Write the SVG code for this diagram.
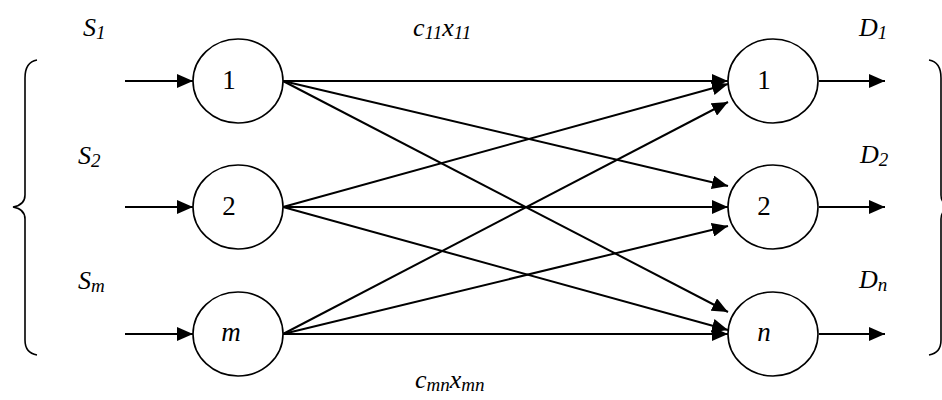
<svg xmlns="http://www.w3.org/2000/svg" width="942" height="400" viewBox="0 0 942 400">
<style>
.node{fill:#fff;stroke:#000;stroke-width:1.6}
.edge{stroke:#000;stroke-width:2;fill:none}
.brace{stroke:#000;stroke-width:1.6;fill:none}
.t{font-family:'Liberation Serif','Times New Roman',Times,serif}
</style>
<defs>
<marker id="ah" viewBox="0 0 16 14" refX="16" refY="7" markerWidth="16" markerHeight="14" markerUnits="userSpaceOnUse" orient="auto">
<path d="M0,0 L16,7 L0,14 z" fill="#000"/>
</marker>
</defs>
<rect width="942" height="400" fill="#fff"/>
<g id="braces">
<path class="brace" d="M37,60 Q25,62 25,78 L25,195 Q25,205 13,207 Q25,209 25,219 L25,340 Q25,353 37,355"/>
<path class="brace" d="M929,60 Q941,62 941,78 L941,195 Q941,205 953,207 Q941,209 941,219 L941,340 Q941,353 929,355"/>
</g>
<g id="connectors">
<line class="edge" x1="125" y1="81" x2="193" y2="81" marker-end="url(#ah)"/>
<line class="edge" x1="125" y1="207" x2="193" y2="207" marker-end="url(#ah)"/>
<line class="edge" x1="125" y1="334" x2="193" y2="334" marker-end="url(#ah)"/>
<line class="edge" x1="283" y1="81" x2="728" y2="81" marker-end="url(#ah)"/>
<line class="edge" x1="283" y1="81" x2="728" y2="186" marker-end="url(#ah)"/>
<line class="edge" x1="283" y1="81" x2="728" y2="312" marker-end="url(#ah)"/>
<line class="edge" x1="283" y1="207" x2="728" y2="84" marker-end="url(#ah)"/>
<line class="edge" x1="283" y1="207" x2="728" y2="207" marker-end="url(#ah)"/>
<line class="edge" x1="283" y1="207" x2="728" y2="330" marker-end="url(#ah)"/>
<line class="edge" x1="283" y1="334" x2="728" y2="102" marker-end="url(#ah)"/>
<line class="edge" x1="283" y1="334" x2="728" y2="226" marker-end="url(#ah)"/>
<line class="edge" x1="283" y1="334" x2="728" y2="334" marker-end="url(#ah)"/>
<line class="edge" x1="819" y1="81" x2="885" y2="81" marker-end="url(#ah)"/>
<line class="edge" x1="819" y1="207" x2="885" y2="207" marker-end="url(#ah)"/>
<line class="edge" x1="819" y1="334" x2="885" y2="334" marker-end="url(#ah)"/>
</g>
<g class="t" font-size="27" fill="#000" text-anchor="middle">
<g id="s1"><ellipse class="node" cx="238" cy="81" rx="45" ry="42"/><text class="t" x="229" y="89">1</text></g>
<g id="s2"><ellipse class="node" cx="238" cy="207" rx="45" ry="42"/><text class="t" x="229" y="215">2</text></g>
<g id="sm"><ellipse class="node" cx="238" cy="334" rx="45" ry="42"/><text class="t" x="231" y="341" font-style="italic">m</text></g>
<g id="d1"><ellipse class="node" cx="773" cy="81" rx="45" ry="42"/><text class="t" x="764" y="89">1</text></g>
<g id="d2"><ellipse class="node" cx="773" cy="207" rx="45" ry="42"/><text class="t" x="764" y="215">2</text></g>
<g id="dn"><ellipse class="node" cx="773" cy="334" rx="45" ry="42"/><text class="t" x="764" y="341" font-style="italic">n</text></g>
</g>
<g id="labels" class="t" font-size="26" font-style="italic" fill="#000">
<text class="t" x="83" y="36">S<tspan font-size="19" dy="3">1</tspan></text>
<text class="t" x="78" y="164">S<tspan font-size="19" dy="3">2</tspan></text>
<text class="t" x="78" y="289">S<tspan font-size="19" dy="3">m</tspan></text>
<text class="t" x="859" y="36">D<tspan font-size="19" dy="3">1</tspan></text>
<text class="t" x="860" y="163">D<tspan font-size="19" dy="3">2</tspan></text>
<text class="t" x="859" y="288">D<tspan font-size="19" dy="3">n</tspan></text>
<text class="t" x="413" y="36">c<tspan font-size="19" dy="3">11</tspan><tspan dy="-3">x</tspan><tspan font-size="19" dy="3">11</tspan></text>
<text class="t" x="415" y="388">c<tspan font-size="19" dy="3">mn</tspan><tspan dy="-3">x</tspan><tspan font-size="19" dy="3">mn</tspan></text>
</g>
</svg>
